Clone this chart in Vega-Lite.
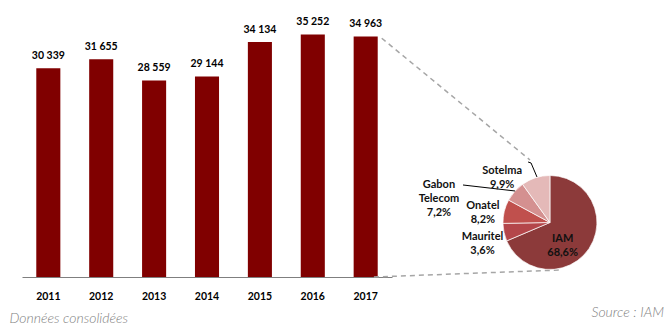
{
  "$schema": "https://vega.github.io/schema/vega-lite/v6.json",
  "padding": {"left": 9, "top": 10, "right": 5, "bottom": 0},
  "spacing": 0,
  "bounds": "flush",
  "config": {
    "view": {"stroke": null},
    "locale": {"number": {"decimal": ",", "thousands": " ", "grouping": [3], "currency": ["", ""]}}
  },
  "datasets": {
    "years": [
      {"year": "2011", "value": 30339},
      {"year": "2012", "value": 31655},
      {"year": "2013", "value": 28559},
      {"year": "2014", "value": 29144},
      {"year": "2015", "value": 34134},
      {"year": "2016", "value": 35252},
      {"year": "2017", "value": 34963}
    ],
    "shares": [
      {"name": "IAM", "rank": 1, "share": 68.6, "label": "IAM\n68,6%"},
      {"name": "Mauritel", "rank": 2, "share": 6.1, "label": "Mauritel\n3,6%"},
      {"name": "Onatel", "rank": 3, "share": 8.2, "label": "Onatel\n8,2%"},
      {"name": "Gabon Telecom", "rank": 4, "share": 7.2, "label": "Gabon\nTelecom\n7,2%"},
      {"name": "Sotelma", "rank": 5, "share": 9.9, "label": "Sotelma\n9,9%"}
    ]
  },
  "hconcat": [
    {
      "width": 370,
      "height": 267,
      "data": {"name": "years"},
      "encoding": {
        "x": {
          "field": "year", "type": "ordinal",
          "scale": {"paddingInner": 0.545, "paddingOuter": 0.27},
          "axis": {
            "title": "Données consolidées",
            "domainColor": "#7f7f7f", "domainWidth": 1,
            "ticks": false, "grid": false,
            "labelAngle": 0, "labelFont": "Lato", "labelFontWeight": "bold", "labelFontSize": 10.5,
            "labelColor": "#000000", "labelPadding": 14,
            "titleFont": "Lato", "titleFontStyle": "italic", "titleFontWeight": 300, "titleFontSize": 14,
            "titleColor": "#7f7f7f", "titleAnchor": "start", "titleAlign": "left",
            "titleX": -13, "titleY": 41, "titleBaseline": "middle"
          }
        },
        "y": {"field": "value", "type": "quantitative", "scale": {"domain": [0, 38800]}, "axis": null}
      },
      "layer": [
        {"mark": {"type": "bar", "color": "#800000"}},
        {
          "mark": {"type": "text", "font": "Lato", "fontWeight": "bold", "fontSize": 10.5, "baseline": "alphabetic", "dy": -9, "color": "#000000"},
          "encoding": {"text": {"field": "value", "type": "quantitative", "format": ",d"}}
        }
      ]
    },
    {
      "width": 270,
      "height": 267,
      "title": {
        "text": "Source : IAM", "orient": "bottom", "anchor": "end", "frame": "group",
        "offset": 35, "font": "Lato", "fontSize": 14, "fontStyle": "italic", "fontWeight": 300,
        "color": "#7f7f7f", "baseline": "middle", "dx": 2
      },
      "data": {"name": "shares"},
      "layer": [
        {
          "data": {"values": [{}]},
          "mark": {"type": "rule", "color": "#a6a6a6", "strokeDash": [5, 4], "strokeWidth": 1.5},
          "encoding": {
            "x": {"datum": -0.038, "type": "quantitative", "scale": {"domain": [0, 1]}, "axis": null},
            "y": {"datum": 34700, "type": "quantitative", "scale": {"domain": [0, 38800]}, "axis": null},
            "x2": {"datum": 0.511},
            "y2": {"datum": 17003}
          }
        },
        {
          "data": {"values": [{}]},
          "mark": {"type": "rule", "color": "#a6a6a6", "strokeDash": [5, 4], "strokeWidth": 1.5},
          "encoding": {
            "x": {"datum": -0.067, "type": "quantitative", "scale": {"domain": [0, 1]}, "axis": null},
            "y": {"datum": 0, "type": "quantitative", "scale": {"domain": [0, 38800]}, "axis": null},
            "x2": {"datum": 0.622},
            "y2": {"datum": 1017}
          }
        },
        {
          "mark": {"type": "arc", "radius": 47, "stroke": "#ffffff", "strokeWidth": 0.7},
          "encoding": {
            "theta": {"field": "share", "type": "quantitative", "stack": true},
            "order": {"field": "rank", "type": "quantitative"},
            "color": {
              "field": "name", "type": "nominal", "legend": null,
              "scale": {
                "domain": ["IAM", "Mauritel", "Onatel", "Gabon Telecom", "Sotelma"],
                "range": ["#8c3a3a", "#b4464a", "#c0504d", "#d49090", "#e4b9b8"]
              }
            },
            "x": {"datum": 0.585, "type": "quantitative", "scale": {"domain": [0, 1]}, "axis": null},
            "y": {"datum": 7920, "type": "quantitative", "scale": {"domain": [0, 38800]}, "axis": null}
          }
        },
        {
          "mark": {"type": "text", "radius": 20, "dx": -4, "dy": 5, "font": "Lato", "fontWeight": "bold", "fontSize": 11, "lineBreak": "\n", "lineHeight": 14, "baseline": "middle", "align": "center", "color": "#111111"},
          "encoding": {
            "theta": {"field": "share", "type": "quantitative", "stack": true},
            "order": {"field": "rank", "type": "quantitative"},
            "x": {"datum": 0.585, "type": "quantitative", "scale": {"domain": [0, 1]}, "axis": null},
            "y": {"datum": 7920, "type": "quantitative", "scale": {"domain": [0, 38800]}, "axis": null},
            "text": {"condition": {"test": "datum.name === 'IAM'", "field": "label"}, "value": ""}
          }
        },
        {
          "mark": {"type": "text", "radius": 69, "font": "Lato", "fontWeight": "bold", "fontSize": 11, "lineBreak": "\n", "lineHeight": 14, "baseline": "middle", "align": "center", "color": "#111111"},
          "encoding": {
            "theta": {"field": "share", "type": "quantitative", "stack": true},
            "order": {"field": "rank", "type": "quantitative"},
            "x": {"datum": 0.585, "type": "quantitative", "scale": {"domain": [0, 1]}, "axis": null},
            "y": {"datum": 7920, "type": "quantitative", "scale": {"domain": [0, 38800]}, "axis": null},
            "text": {"condition": {"test": "datum.name === 'Mauritel' || datum.name === 'Onatel'", "field": "label"}, "value": ""}
          }
        },
        {
          "mark": {"type": "text", "radius": 68, "dx": -60, "dy": 7, "font": "Lato", "fontWeight": "bold", "fontSize": 11, "lineBreak": "\n", "lineHeight": 14, "baseline": "middle", "align": "center", "color": "#111111"},
          "encoding": {
            "theta": {"field": "share", "type": "quantitative", "stack": true},
            "order": {"field": "rank", "type": "quantitative"},
            "x": {"datum": 0.585, "type": "quantitative", "scale": {"domain": [0, 1]}, "axis": null},
            "y": {"datum": 7920, "type": "quantitative", "scale": {"domain": [0, 38800]}, "axis": null},
            "text": {"condition": {"test": "datum.name === 'Gabon Telecom'", "field": "label"}, "value": ""}
          }
        },
        {
          "mark": {"type": "text", "radius": 68, "dx": -27, "dy": 13, "font": "Lato", "fontWeight": "bold", "fontSize": 11, "lineBreak": "\n", "lineHeight": 14, "baseline": "middle", "align": "center", "color": "#111111"},
          "encoding": {
            "theta": {"field": "share", "type": "quantitative", "stack": true},
            "order": {"field": "rank", "type": "quantitative"},
            "x": {"datum": 0.585, "type": "quantitative", "scale": {"domain": [0, 1]}, "axis": null},
            "y": {"datum": 7920, "type": "quantitative", "scale": {"domain": [0, 38800]}, "axis": null},
            "text": {"condition": {"test": "datum.name === 'Sotelma'", "field": "label"}, "value": ""}
          }
        },
        {
          "data": {"values": [{}]},
          "mark": {"type": "rule", "color": "#000000", "strokeWidth": 1},
          "encoding": {
            "x": {"datum": 0.263, "type": "quantitative", "scale": {"domain": [0, 1]}, "axis": null},
            "y": {"datum": 13370, "type": "quantitative", "scale": {"domain": [0, 38800]}, "axis": null},
            "x2": {"datum": 0.456},
            "y2": {"datum": 12498}
          }
        },
        {
          "data": {"values": [{}]},
          "mark": {"type": "rule", "color": "#000000", "strokeWidth": 1},
          "encoding": {
            "x": {"datum": 0.504, "type": "quantitative", "scale": {"domain": [0, 1]}, "axis": null},
            "y": {"datum": 16713, "type": "quantitative", "scale": {"domain": [0, 38800]}, "axis": null},
            "x2": {"datum": 0.515},
            "y2": {"datum": 16567}
          }
        },
        {
          "data": {"values": [{}]},
          "mark": {"type": "rule", "color": "#000000", "strokeWidth": 1},
          "encoding": {
            "x": {"datum": 0.515, "type": "quantitative", "scale": {"domain": [0, 1]}, "axis": null},
            "y": {"datum": 16567, "type": "quantitative", "scale": {"domain": [0, 38800]}, "axis": null},
            "x2": {"datum": 0.537},
            "y2": {"datum": 14533}
          }
        }
      ]
    }
  ]
}
